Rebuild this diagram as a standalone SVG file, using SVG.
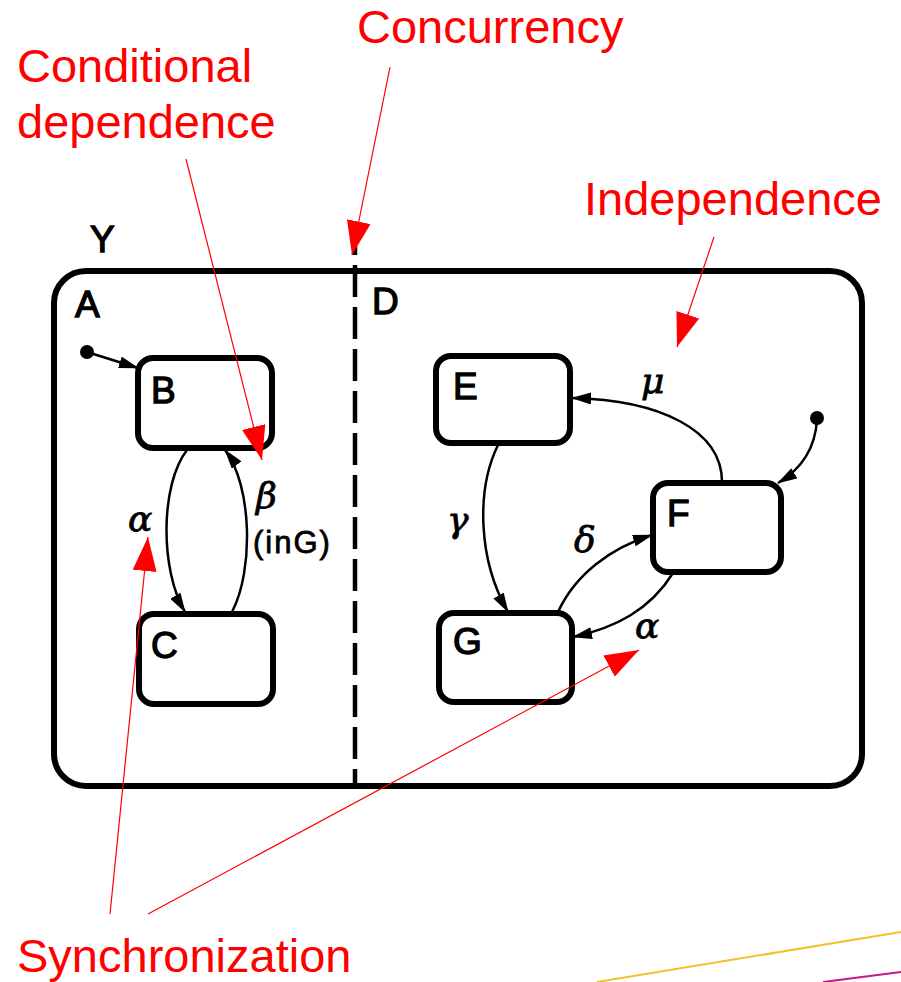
<svg xmlns="http://www.w3.org/2000/svg" width="901" height="982" viewBox="0 0 901 982">
  <style>
    .frame { fill: none; stroke: #000; stroke-width: 6; }
    .state { fill: #fff; stroke: #000; stroke-width: 6; }
    .edge { fill: none; stroke: #000; stroke-width: 2.5; marker-end: url(#arrow); }
    .lbl { font-family: "Liberation Sans", Arial, sans-serif; font-size: 37px; fill: #000; stroke: #000; stroke-width: 1.3; }
    .guard { font-family: "Liberation Sans", Arial, sans-serif; font-size: 31px; fill: #000; stroke: #000; stroke-width: 0.8; letter-spacing: 2px; }
    .greek { font-family: "DejaVu Serif", "Liberation Serif", serif; font-style: italic; font-size: 36px; fill: #000; stroke: #000; stroke-width: 0.8; }
    .note { font-family: "Liberation Sans", Arial, sans-serif; font-size: 47px; fill: #ff0000; }
    .pointer { fill: none; stroke: #ff0000; stroke-width: 1.2; marker-end: url(#redhead); }
  </style>
  <defs>
    <marker id="arrow" viewBox="0 0 20 12" refX="19" refY="6" markerWidth="20" markerHeight="12" markerUnits="userSpaceOnUse" orient="auto">
      <path d="M0,0 L20,6 L0,12 z" fill="#000"/>
    </marker>
    <marker id="redhead" viewBox="0 0 34 24" refX="34" refY="12" markerWidth="34" markerHeight="24" markerUnits="userSpaceOnUse" orient="auto">
      <path d="M0,0 L34,12 L0,24 z" fill="#ff0000"/>
    </marker>
  </defs>

  <rect width="901" height="982" fill="#fff"/>

  <!-- superstate Y with orthogonal components A and D -->
  <g id="Y">
    <rect class="frame" x="54" y="271" width="808" height="515" rx="32"/>
    <line x1="355" y1="223" x2="355" y2="784" stroke="#000" stroke-width="4.5" stroke-dasharray="32 10"/>
    <text class="lbl" x="90" y="252">Y</text>
    <text class="lbl" x="75" y="317">A</text>
    <text class="lbl" x="372" y="314">D</text>
  </g>

  <g id="B">
    <rect class="state" x="138" y="358" width="134" height="90" rx="15"/>
    <text class="lbl" x="151" y="403">B</text>
  </g>
  <g id="C">
    <rect class="state" x="139" y="614" width="134" height="90" rx="15"/>
    <text class="lbl" x="151" y="658">C</text>
  </g>
  <g id="E">
    <rect class="state" x="436" y="356" width="134" height="87" rx="15"/>
    <text class="lbl" x="453" y="399">E</text>
  </g>
  <g id="F">
    <rect class="state" x="653" y="483" width="128" height="89" rx="15"/>
    <text class="lbl" x="667" y="526">F</text>
  </g>
  <g id="G">
    <rect class="state" x="439" y="613" width="133" height="89" rx="15"/>
    <text class="lbl" x="453" y="654">G</text>
  </g>

  <!-- transitions -->
  <g id="transitions">
    <circle cx="87" cy="352" r="7" fill="#000"/>
    <path class="edge" d="M87,352 L138,368"/>
    <path class="edge" d="M187,450 C160,485 160,570 185,612"/>
    <path class="edge" d="M232,612 C254,570 252,485 225,450"/>
    <circle cx="817" cy="418" r="7" fill="#000"/>
    <path class="edge" d="M817,420 C815,450 800,470 778,483"/>
    <path class="edge" d="M722,482 C722,430 660,400 572,398"/>
    <path class="edge" d="M498,445 C476,490 478,560 508,612"/>
    <path class="edge" d="M558,612 C575,575 610,548 652,535"/>
    <path class="edge" d="M673,573 C650,610 615,628 573,637"/>
    <text class="greek" x="128" y="531">α</text>
    <text class="greek" x="256" y="508">β</text>
    <text class="guard" x="253" y="553">(inG)</text>
    <text class="greek" x="641" y="393">μ</text>
    <text class="greek" x="447" y="532">γ</text>
    <text class="greek" x="574" y="552">δ</text>
    <text class="greek" x="635" y="638">α</text>
  </g>

  <!-- annotations -->
  <g id="annotations">
    <text class="note" x="357" y="43">Concurrency</text>
    <text class="note" x="17" y="82">Conditional</text>
    <text class="note" x="17" y="138">dependence</text>
    <text class="note" x="584" y="215">Independence</text>
    <text class="note" x="17" y="972">Synchronization</text>
    <path class="pointer" d="M390,67 L352,255"/>
    <path class="pointer" d="M186,159 L262,460"/>
    <path class="pointer" d="M714,237 L677,347"/>
    <path class="pointer" d="M110,914 L148,537"/>
    <path class="pointer" d="M148,914 L639,650"/>
  </g>

  <!-- slide decoration -->
  <g id="decoration">
    <line x1="597" y1="982" x2="901" y2="932" stroke="#f2c12e" stroke-width="2"/>
    <line x1="823" y1="982" x2="901" y2="972" stroke="#c2188c" stroke-width="2"/>
  </g>
</svg>
